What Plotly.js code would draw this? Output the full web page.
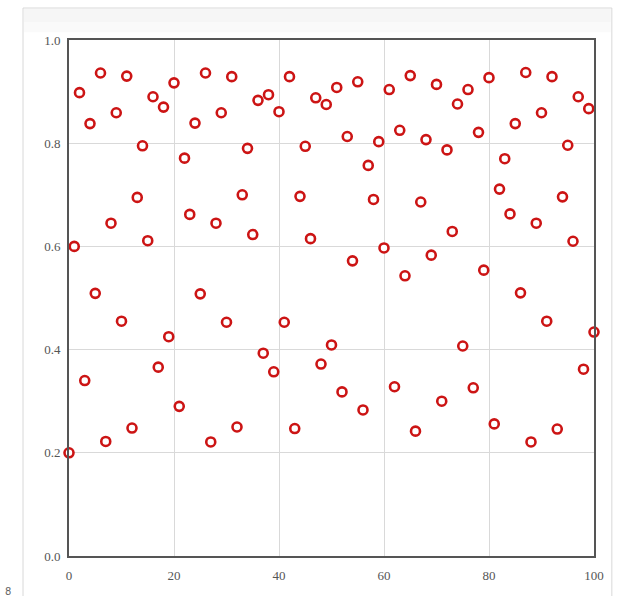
<!DOCTYPE html>
<html>
<head>
<meta charset="utf-8">
<script src="https://cdn.plot.ly/plotly-3.0.1.min.js"></script>
<style>html,body{margin:0;padding:0;background:#fff;}#chart{width:624px;height:596px;}</style>
</head>
<body>
<div id="chart"></div>
<script>
const steps = [];
for (let i = 0; i <= 100; i++) steps.push(i);
const values = [
  0.200, 0.600, 0.898, 0.340, 0.838, 0.509, 0.936, 0.222, 0.645, 0.859,
  0.455, 0.930, 0.248, 0.695, 0.795, 0.611, 0.890, 0.366, 0.870, 0.425,
  0.917, 0.290, 0.771, 0.662, 0.839, 0.508, 0.936, 0.221, 0.645, 0.859,
  0.453, 0.929, 0.250, 0.700, 0.790, 0.623, 0.883, 0.393, 0.894, 0.357,
  0.861, 0.453, 0.929, 0.247, 0.697, 0.794, 0.615, 0.888, 0.372, 0.875,
  0.409, 0.908, 0.318, 0.813, 0.572, 0.919, 0.283, 0.757, 0.691, 0.803,
  0.597, 0.904, 0.328, 0.825, 0.543, 0.931, 0.242, 0.686, 0.807, 0.583,
  0.914, 0.300, 0.787, 0.629, 0.876, 0.407, 0.904, 0.326, 0.821, 0.554,
  0.927, 0.256, 0.711, 0.770, 0.663, 0.838, 0.510, 0.937, 0.221, 0.645,
  0.859, 0.455, 0.929, 0.246, 0.696, 0.796, 0.610, 0.890, 0.362, 0.867,
  0.434
];
const xTicks = [0, 20, 40, 60, 80, 100];
const yTicks = [0.0, 0.2, 0.4, 0.6, 0.8, 1.0];

const trace = {
  x: steps,
  y: values,
  type: 'scatter',
  mode: 'markers',
  marker: {
    symbol: 'circle',
    size: 9,
    color: '#ffffff',
    line: { color: '#cc1414', width: 2.6 }
  },
  hoverinfo: 'x+y',
  cliponaxis: false
};

const tickFont = { family: 'Liberation Serif, DejaVu Serif, serif', size: 13, color: '#555555' };

const layout = {
  width: 624,
  height: 596,
  margin: { l: 69, r: 30, t: 40, b: 40, pad: 0 },
  paper_bgcolor: '#ffffff',
  plot_bgcolor: 'rgba(0,0,0,0)',
  showlegend: false,
  xaxis: {
    range: [0, 100],
    tickvals: xTicks,
    ticktext: xTicks.map(String),
    showgrid: true,
    gridcolor: '#d9d9d9',
    gridwidth: 1,
    zeroline: false,
    showline: true,
    linecolor: '#555555',
    linewidth: 2,
    mirror: true,
    ticks: '',
    ticklabelstandoff: 6,
    tickfont: tickFont
  },
  yaxis: {
    range: [0, 1],
    tickvals: yTicks,
    ticktext: yTicks.map(v => v.toFixed(1)),
    showgrid: true,
    gridcolor: '#d9d9d9',
    gridwidth: 1,
    zeroline: false,
    showline: true,
    linecolor: '#555555',
    linewidth: 2,
    mirror: true,
    ticks: '',
    ticklabelstandoff: 4,
    tickfont: tickFont
  },
  shapes: [
    { type: 'rect', xref: 'paper', yref: 'paper', layer: 'below',
      x0: -0.0876, x1: 1.034, y0: -0.09, y1: 1.062,
      fillcolor: '#ffffff', line: { color: '#d8d8d8', width: 1 } },
    { type: 'rect', xref: 'paper', yref: 'paper', layer: 'below',
      x0: -0.0857, x1: 1.032, y0: 1.035, y1: 1.060,
      fillcolor: '#f6f6f6', line: { width: 0 } },
    { type: 'rect', xref: 'paper', yref: 'paper', layer: 'below',
      x0: -0.0857, x1: 1.032, y0: 1.015, y1: 1.035,
      fillcolor: '#fafafa', line: { width: 0 } }
  ],
  annotations: [
    { text: '8', xref: 'paper', yref: 'paper', x: -0.116, y: -0.068,
      showarrow: false, xanchor: 'center', yanchor: 'middle',
      font: { family: 'DejaVu Sans, sans-serif', size: 10, color: '#666666' } }
  ]
};

Plotly.newPlot('chart', [trace], layout, { displayModeBar: false, staticPlot: true });
</script>
</body>
</html>
